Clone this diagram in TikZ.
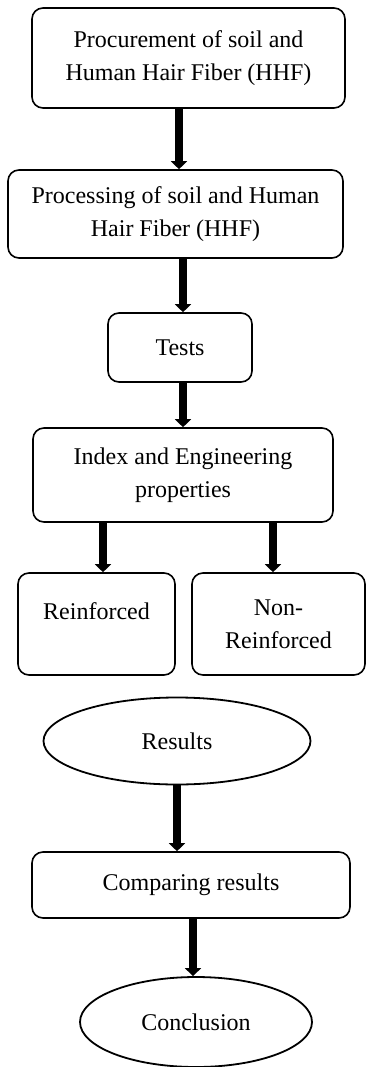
\documentclass[tikz,border=0pt]{standalone}
\usepackage{fontspec}
\setmainfont{Liberation Serif}
\usepackage{tikz}
\usetikzlibrary{arrows.meta, shapes.geometric}
\tikzset{
  bb/.style={rectangle, rounded corners=11pt, draw=black, fill=white,
             line width=1.6pt, align=center, inner sep=2pt,
             font=\fontsize{24}{33}\selectfont},
  ov/.style={ellipse, draw=black, fill=white, line width=1.8pt,
             inner sep=0pt, font=\fontsize{24}{33}\selectfont},
  arr/.style={-{Triangle[length=8pt,width=16pt]}, line width=8pt, color=black},
}

\begin{document}
\begin{tikzpicture}[x=1pt, y=-1pt]
  \useasboundingbox (0,0) rectangle (366,1067);
  % ── Nodes ──────────────────────────────────────────────────────────────────
  \node[bb, minimum width=313pt, minimum height=100pt] at (188.5, 58)  (proc)  {Procurement of soil and\\Human Hair Fiber (HHF)};
  \node[bb, minimum width=335pt, minimum height=88pt]  at (175.5, 214) (prep)  {Processing of soil and Human\\Hair Fiber (HHF)};
  \node[bb, minimum width=144pt, minimum height=69pt]  at (180, 347.5) (tests) {Tests};
  \node[bb, minimum width=300pt, minimum height=94pt]  at (183, 475)   (props) {Index and Engineering\\properties};
  \node[bb, minimum width=157pt, minimum height=102pt, text depth=26pt] at (96.5, 624) (reinf) {Reinforced};
  \node[bb, minimum width=173pt, minimum height=102pt] at (278.5, 624) (nonreinf) {Non-\\Reinforced};
  \node[ov, minimum width=267pt, minimum height=87pt]  at (177, 741)   (res)   {Results};
  \node[bb, minimum width=318pt, minimum height=66pt]  at (191, 885)   (comp)  {Comparing results};
  \node[ov, minimum width=232pt, minimum height=90pt]  at (196, 1022)  (concl) {Conclusion};

  % ── Arrows ─────────────────────────────────────────────────────────────────
  \draw[arr] ([xshift=-9.5pt]proc.south) -- ([xshift=3.5pt]prep.north);
  \draw[arr] ([xshift=7.5pt]prep.south)  -- ([xshift=3pt]tests.north);
  \draw[arr] ([xshift=3pt]tests.south)   -- (props.north);
  \draw[arr] ([xshift=-80pt]props.south) -- ([xshift=6.5pt]reinf.north);
  \draw[arr] ([xshift=90pt]props.south)  -- ([xshift=-5.5pt]nonreinf.north);
  \draw[arr] (res.south)                 -- ([xshift=-14pt]comp.north);
  \draw[arr] ([xshift=2pt]comp.south)    -- ([xshift=-3pt]concl.north);
\end{tikzpicture}
\end{document}
